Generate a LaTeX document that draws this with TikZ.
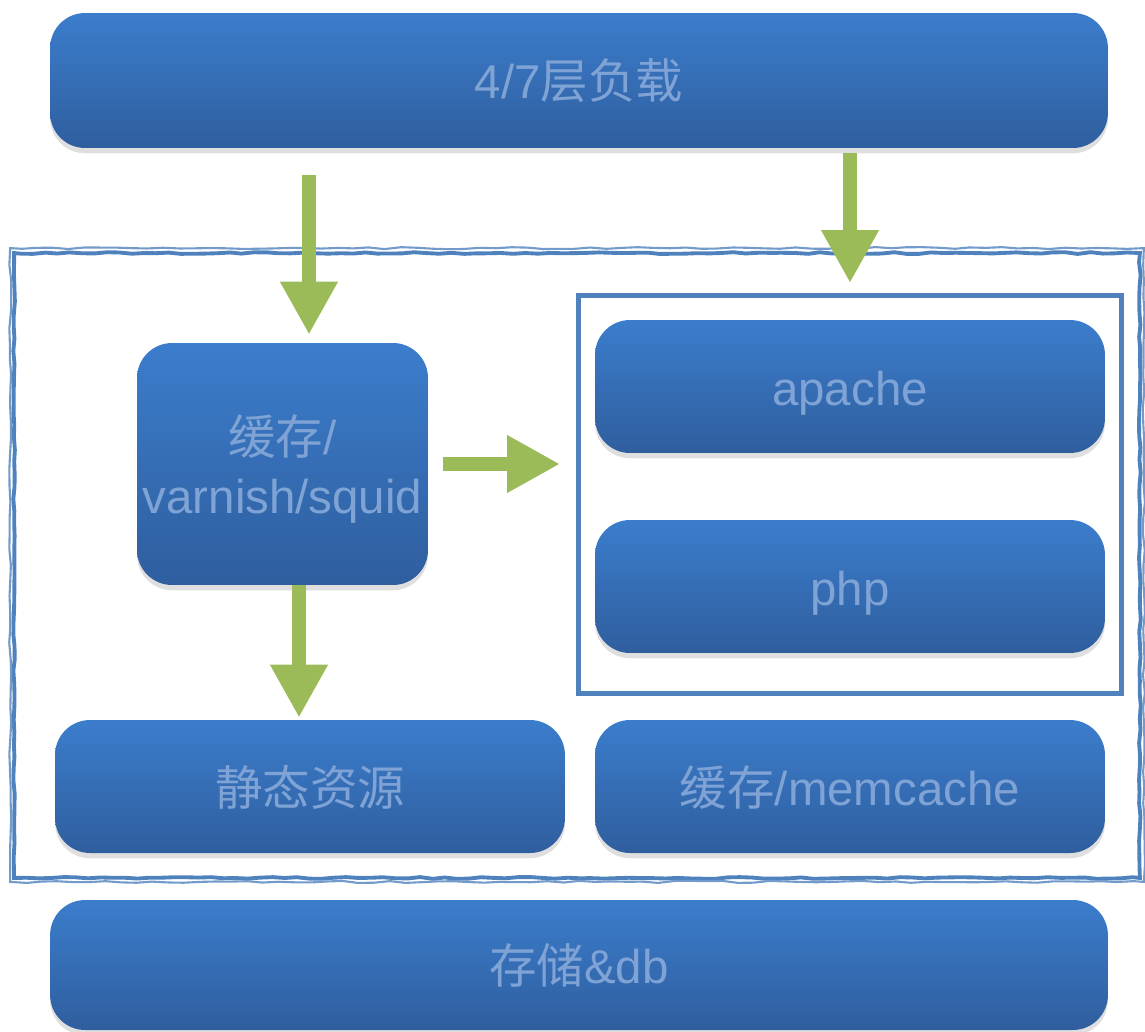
\documentclass[tikz,border=0pt]{standalone}
\usepackage{fontspec}
\setmainfont{Liberation Sans}
\newfontfamily\cjk{Noto Sans CJK SC}
\usetikzlibrary{arrows.meta,shadows,decorations.pathmorphing}

\definecolor{boxtop}{RGB}{59,125,204}
\definecolor{boxbot}{RGB}{47,94,158}
\definecolor{boxtext}{RGB}{128,163,214}
\definecolor{flowgreen}{RGB}{155,187,89}
\definecolor{frameblue}{RGB}{79,129,189}

\begin{document}
\begin{tikzpicture}[x=0.02cm,y=-0.02cm]
        \pgfmathsetseed{7}
        \useasboundingbox (0,0) rectangle (1145,1031);

        % rough outer frame
        \node[minimum width=22.52cm,minimum height=12.5cm,draw=frameblue,line width=2.2pt,
              decorate,decoration={random steps,segment length=7pt,amplitude=0.5pt}] (9) at (577,565.5) {};
        \draw[frameblue!80,line width=1.2pt,decorate,decoration={random steps,segment length=9pt,amplitude=0.6pt}]
              ([shift={(-2,-3)}]9.north west) rectangle ([shift={(2,2)}]9.south east);

        % inner frame
        \node[minimum width=10.86cm,minimum height=7.96cm,draw=frameblue,line width=0.1cm] (8) at (850,494.5) {};

        \begin{scope}[every node/.style={rounded corners=0.7cm,top color=boxtop,bottom color=boxbot,
              text=boxtext,inner sep=0pt,font=\fontsize{27}{34}\selectfont,align=center,
              text height=0.9cm,text depth=0.16cm,
              drop shadow={opacity=0.25,shadow xshift=0pt,shadow yshift=-3pt}}]
          \node[minimum width=21.16cm,minimum height=2.7cm]  (1) at (579,80.5)  {4/7{\cjk 层负载}};
          \node[minimum width=5.82cm,minimum height=4.84cm,text height=,text depth=0pt]
                                                             (2) at (282.5,464) {{\cjk 缓存}/\\varnish/squid};
          \node[minimum width=10.2cm,minimum height=2.66cm]  (3) at (850,386.5) {apache};
          \node[minimum width=10.2cm,minimum height=2.66cm]  (4) at (850,586.5) {php};
          \node[minimum width=10.2cm,minimum height=2.66cm]  (5) at (310,786.5) {\cjk 静态资源};
          \node[minimum width=10.2cm,minimum height=2.66cm]  (6) at (850,786.5) {{\cjk 缓存}/memcache};
          \node[minimum width=21.16cm,minimum height=2.6cm]  (7) at (579,965)   {{\cjk 存储}\&db};
        \end{scope}

        \begin{scope}[every edge/.style={draw=flowgreen,line width=0.28cm,
              -{Triangle[width=1.08cm,length=1.06cm]}}]
          \path ([xshift=0.53cm]2.north |- 1.south) edge[shorten <=0.54cm,shorten >=0.16cm] ([xshift=0.53cm]2.north);
          \path (1.south -| 8.north) edge[shorten <=0.1cm,shorten >=0.2cm] (8.north);
          \path (2.east) edge[shorten <=0.3cm,shorten >=0.32cm] (8.west |- 2.east);
          \path ([xshift=0.33cm]2.south) edge[shorten >=0.04cm] ([xshift=0.33cm]2.south |- 5.north);
        \end{scope}

      \end{tikzpicture}
\end{document}
